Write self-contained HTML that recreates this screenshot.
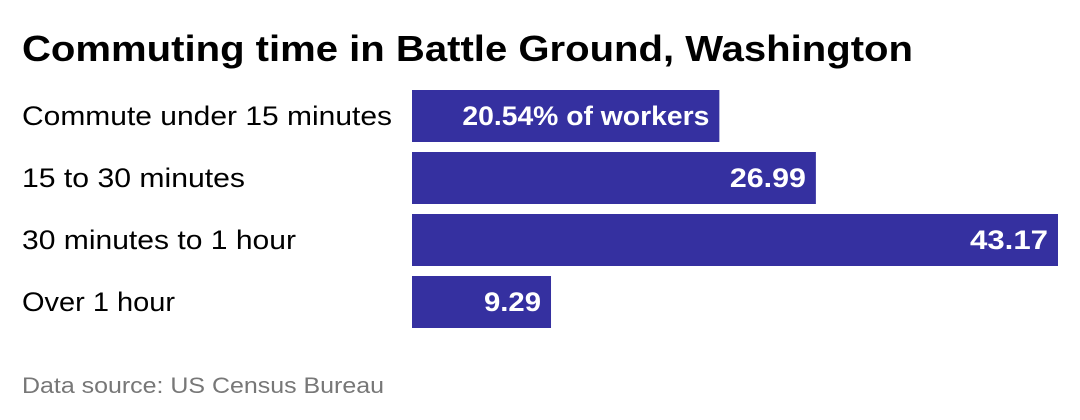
<!DOCTYPE html>
<html><head><meta charset="utf-8"><style>
body{margin:0;width:1080px;height:420px;background:#fff;font-family:"Liberation Sans",sans-serif;overflow:hidden}
svg{display:block}
</style></head><body>
<svg width="1080" height="420">
<text x="22" y="61" font-size="36" font-weight="bold" fill="#000" textLength="891" lengthAdjust="spacingAndGlyphs">Commuting time in Battle Ground, Washington</text>
<g id="bars"></g>
<text x="22" y="393" font-size="22" fill="#777" textLength="362" lengthAdjust="spacingAndGlyphs">Data source: US Census Bureau</text>
</svg>
<script>
const categories=["Commute under 15 minutes","15 to 30 minutes","30 minutes to 1 hour","Over 1 hour"];
const values=[20.54,26.99,43.17,9.29];
const valueLabels=["20.54% of workers","26.99","43.17","9.29"];
const catWidths=[370,223,274,153];
const valWidths=[247,76,78,57];
const g=document.getElementById('bars');
const ns="http://www.w3.org/2000/svg";
const x0=412,xMax=1058,maxV=43.17;
const xs=v=>(v/maxV)*(xMax-x0);
const y0=90,step=62,bh=52;
categories.forEach((c,i)=>{
 const y=y0+i*step;
 const t=document.createElementNS(ns,'text');
 
 
 t.setAttribute('x',22);t.setAttribute('y',y+bh/2+9);t.setAttribute('font-size','27');t.setAttribute('fill','#000');
 t.setAttribute('textLength',catWidths[i]);t.setAttribute('lengthAdjust','spacingAndGlyphs');
 t.textContent=c;g.appendChild(t);
 const r=document.createElementNS(ns,'rect');
 
 
 r.setAttribute('x',x0);r.setAttribute('y',y);r.setAttribute('width',xs(values[i]));r.setAttribute('height',bh);r.setAttribute('fill','#3530a0');
 g.appendChild(r);
 const v=document.createElementNS(ns,'text');
 
 
 v.setAttribute('x',x0+xs(values[i])-10);v.setAttribute('y',y+bh/2+9);v.setAttribute('font-size','27');v.setAttribute('fill','#fff');v.setAttribute('text-anchor','end');v.setAttribute('font-weight','bold');
 v.setAttribute('textLength',valWidths[i]);v.setAttribute('lengthAdjust','spacingAndGlyphs');
 v.textContent=valueLabels[i];g.appendChild(v);
});
</script>
</body></html>
